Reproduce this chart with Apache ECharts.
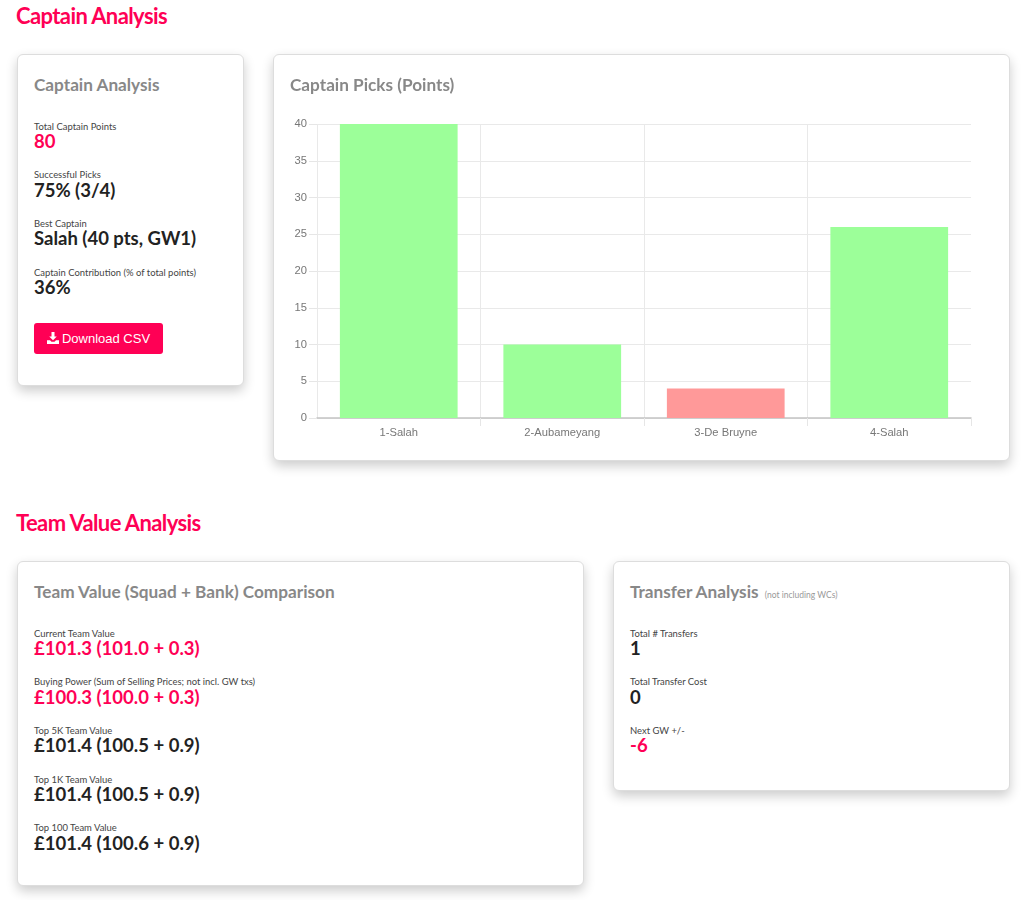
<!DOCTYPE html>
<html>
<head>
<meta charset="utf-8">
<script src="https://cdn.jsdelivr.net/npm/echarts@6/dist/echarts.min.js"></script>
<style>
html,body{margin:0;padding:0;background:#fff;width:1024px;height:900px;overflow:hidden;font-family:Lato,"Open Sans",sans-serif;}
.h{position:absolute;left:16px;color:#ff0055;font-size:22px;font-weight:700;line-height:26px;letter-spacing:-.6px;}
.card{position:absolute;box-sizing:border-box;background:#fff;border:1px solid #ddd;border-radius:6px;box-shadow:0 5px 12px rgba(0,0,0,.2);}
.title{position:absolute;left:16.5px;top:19.5px;color:#888;font-size:17.2px;font-weight:700;line-height:22px;white-space:nowrap;}
.title small{font-size:8.5px;font-weight:400;color:#999;margin-left:2px;}
.stat{position:absolute;left:16.5px;white-space:nowrap;}
.lab{font-size:9.45px;line-height:12px;color:#444;}
.val{font-size:18.5px;font-weight:700;line-height:20px;color:#222;margin-top:-1.5px;}
.val.hot{color:#ff0055;}
.btn{position:absolute;left:16.5px;top:268.5px;width:129px;height:31px;background:#ff0055;border-radius:3px;color:#fff;font:13px/31px "Liberation Sans",Arial,sans-serif;text-align:center;white-space:nowrap;}
.btn svg{width:12px;height:12px;vertical-align:-1px;margin-right:3px;}
#chart{position:absolute;left:-.5px;top:-.5px;width:736px;height:405px;}
</style>
</head>
<body>
<div class="h" style="top:3px">Captain Analysis</div>
<div class="h" style="top:510px">Team Value Analysis</div>

<div class="card" style="left:16.5px;top:53.5px;width:227px;height:332px" id="c1"><div class="title">Captain Analysis</div></div>
<div class="card" style="left:272.5px;top:53.5px;width:737px;height:407px"><div id="chart"></div><div class="title">Captain Picks (Points)</div></div>
<div class="card" style="left:16.5px;top:560.5px;width:567px;height:325px" id="c3"><div class="title">Team Value (Squad + Bank) Comparison</div></div>
<div class="card" style="left:612.5px;top:560.5px;width:397px;height:230px" id="c4"><div class="title">Transfer Analysis <small>(not including WCs)</small></div></div>

<script>
var categories = ['1-Salah', '2-Aubameyang', '3-De Bruyne', '4-Salah'];
var captainPoints = [40, 10, 4, 26];
var captainSuccess = [true, true, false, true];
var yTicks = [0, 5, 10, 15, 20, 25, 30, 35, 40];

var captainStats = [
  ['Total Captain Points', '80', true],
  ['Successful Picks', '75% (3/4)', false],
  ['Best Captain', 'Salah (40 pts, GW1)', false],
  ['Captain Contribution (% of total points)', '36%', false]
];
var valueStats = [
  ['Current Team Value', '£101.3 (101.0 + 0.3)', true],
  ['Buying Power (Sum of Selling Prices; not incl. GW txs)', '£100.3 (100.0 + 0.3)', true],
  ['Top 5K Team Value', '£101.4 (100.5 + 0.9)', false],
  ['Top 1K Team Value', '£101.4 (100.5 + 0.9)', false],
  ['Top 100 Team Value', '£101.4 (100.6 + 0.9)', false]
];
var transferStats = [
  ['Total # Transfers', '1', false],
  ['Total Transfer Cost', '0', false],
  ['Next GW +/-', '-6', true]
];

function addStats(id, stats) {
  var card = document.getElementById(id);
  stats.forEach(function (s, i) {
    var d = document.createElement('div');
    d.className = 'stat';
    d.style.top = (66 + i * 48.7) + 'px';
    var l = document.createElement('div'); l.className = 'lab'; l.textContent = s[0];
    var v = document.createElement('div'); v.className = 'val' + (s[2] ? ' hot' : ''); v.textContent = s[1];
    d.appendChild(l); d.appendChild(v); card.appendChild(d);
  });
}
addStats('c1', captainStats);
addStats('c3', valueStats);
addStats('c4', transferStats);

var btn = document.createElement('div');
btn.className = 'btn';
btn.innerHTML = '<svg viewBox="0 0 16 16"><path fill="#fff" d="M6 0h4v6h3l-5 5-5-5h3zM0 11h4l2 2h4l2-2h4v5H0z"/></svg>Download CSV';
document.getElementById('c1').appendChild(btn);

var chart = echarts.init(document.getElementById('chart'), null, {renderer: 'canvas'});
var gridColor = '#e9e9e9';
chart.setOption({
  animation: false,
  grid: {left: 44, right: 38, top: 70, height: 294},
  xAxis: {
    type: 'category',
    data: categories,
    axisLine: {show: true, lineStyle: {color: '#c4c4c4', width: 1.5}},
    axisTick: {show: true, length: 8, interval: function (i) { return i > 0; }, lineStyle: {color: '#e6e6e6'}},
    axisLabel: {color: '#777', fontFamily: 'Liberation Sans', fontSize: 11.2, margin: 9},
    splitLine: {show: true, showMaxLine: false, lineStyle: {color: gridColor}}
  },
  yAxis: {
    type: 'value',
    min: yTicks[0],
    max: yTicks[yTicks.length - 1],
    interval: yTicks[1] - yTicks[0],
    axisLine: {show: false},
    axisTick: {show: true, length: 8, lineStyle: {color: '#e6e6e6'}},
    axisLabel: {color: '#777', fontFamily: 'Liberation Sans', fontSize: 11.2, margin: 10},
    splitLine: {show: true, lineStyle: {color: gridColor}}
  },
  series: [{
    type: 'bar',
    barWidth: '72%',
    data: captainPoints.map(function (v, i) {
      return {value: v, itemStyle: {color: captainSuccess[i] ? '#9cff99' : '#ff9999'}};
    })
  }]
});
</script>
</body>
</html>
